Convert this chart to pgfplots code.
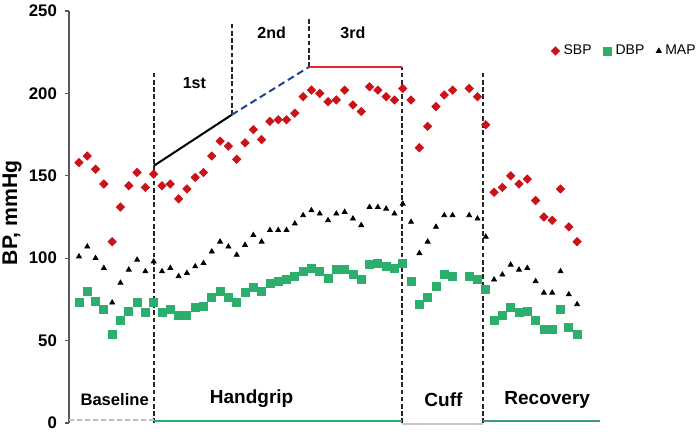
\documentclass[border=0pt]{standalone}
\usepackage{pgfplots}
\pgfplotsset{compat=1.18}
\usepackage{fontspec}
\setmainfont{Liberation Sans}
\definecolor{sbpred}{HTML}{CC1219}
\definecolor{dbpgreen}{HTML}{2BAE6C}
\definecolor{bluedash}{HTML}{1F4690}
\definecolor{redline}{HTML}{E5252A}
\definecolor{basegray}{HTML}{BDBDBD}
\definecolor{cuffgray}{HTML}{C8C8C8}
\definecolor{recteal}{HTML}{3F9A78}
\begin{document}
\begin{tikzpicture}
\begin{axis}[
  at={(0,0)}, anchor=south west,
  scale only axis, width=313pt, height=206pt,
  xmin=-1.2, xmax=74.2, ymin=0, ymax=250,
  axis x line=none, axis y line=left,
  y axis line style={-, draw=black!65, line width=0.6pt},
  ytick={0,50,100,150,200,250},
  xtick=\empty,
  tick align=outside, major tick length=2pt,
  tick style={draw=black!65, line width=0.6pt},
  /pgf/number format/assume math mode=true,
  yticklabel style={font=\bfseries\fontsize{8.4}{10}\selectfont, xshift=-0.5pt},
  ylabel={BP, mmHg},
  ylabel style={at={(axis description cs:-0.091,0.51)}, anchor=center, font=\bfseries\fontsize{10.6}{12}\selectfont},
  clip=false,
  legend columns=3,
  legend style={at={(1.008,0.903)}, anchor=east, draw=none, fill=none,
    font=\fontsize{7}{8}\selectfont, inner sep=0pt,
    /tikz/every even column/.append style={column sep=4pt}},
  legend image code/.code={\draw[#1] plot coordinates {(0pt,0pt)};},
  legend cell align=left,
]
% phase lines
\addplot[forget plot, black!85, line width=0.9pt, dash pattern=on 2.3pt off 1.3pt] coordinates {(9,0) (9,214)};
\addplot[forget plot, black!85, line width=0.9pt, dash pattern=on 2.3pt off 1.3pt] coordinates {(18.4,187) (18.4,242)};
\addplot[forget plot, black!85, line width=0.9pt, dash pattern=on 2.3pt off 1.3pt] coordinates {(27.7,216) (27.7,246)};
\addplot[forget plot, black!85, line width=0.9pt, dash pattern=on 2.3pt off 1.3pt] coordinates {(38.9,0) (38.9,216)};
\addplot[forget plot, black!85, line width=0.9pt, dash pattern=on 2.3pt off 1.3pt] coordinates {(48.7,0) (48.7,214)};
\addplot[forget plot, black, line width=1pt] coordinates {(9,156) (18.4,187)};
\addplot[forget plot, bluedash, line width=1pt, dash pattern=on 3.5pt off 2pt] coordinates {(18.4,187) (27.7,216)};
\addplot[forget plot, redline, line width=1.4pt] coordinates {(27.7,216) (38.9,216)};
% bottom phase bars
\addplot[forget plot, basegray, line width=0.8pt, dash pattern=on 2.5pt off 1.5pt] coordinates {(-1.2,1.8) (9,1.8)};
\addplot[forget plot, dbpgreen, line width=1.1pt] coordinates {(9,1) (38.9,1)};
\addplot[forget plot, cuffgray, line width=1.1pt] coordinates {(38.9,-0.6) (48.7,-0.6)};
\addplot[forget plot, recteal, line width=0.9pt] coordinates {(48.7,1) (62.8,1)};
% SBP
\addplot[only marks, mark=square*, mark size=1.45pt, mark options={rotate=45, fill=sbpred, draw=sbpred}] coordinates {
(0,158)(1,162)(2,154)(3,145)(4,110)(5,131)(6,144)(7,152)(8,143)(9,151)
(10,144)(11,145)(12,136)(13,142)(14,149)(15,152)(16,162)(17,171)(18,168)(19,160)
(20,170)(21,178)(22,172)(23,183)(24,184)(25,184)(26,188)(27,198)(28,202)(29,200)
(30,195)(31,196)(32,202)(33,193)(34,189)(35,204)(36,202)(37,198)(38,196)(39,203)
(40,196)(41,167)(42,180)(43,192)(44,199)(45,202)(47,203)(48,198)(49,181)
(50,140)(51,143)(52,150)(53,145)(54,148)(55,135)(56,125)(57,123)(58,142)(59,119)(60,110)};
\addlegendentry{SBP}
% DBP
\addplot[only marks, mark=square*, mark size=2pt, mark options={fill=dbpgreen, draw=dbpgreen}] coordinates {
(0,73)(1,80)(2,74)(3,69)(4,54)(5,62)(6,68)(7,73)(8,67)(9,73)
(10,67)(11,69)(12,65)(13,65)(14,70)(15,71)(16,76)(17,80)(18,76)(19,73)
(20,79)(21,82)(22,80)(23,85)(24,86)(25,87)(26,89)(27,92)(28,94)(29,92)
(30,88)(31,93)(32,93)(33,90)(34,87)(35,96)(36,97)(37,95)(38,94)(39,97)
(40,86)(41,72)(42,76)(43,83)(44,90)(45,89)(47,89)(48,87)(49,81)
(50,62)(51,65)(52,70)(53,67)(54,68)(55,62)(56,57)(57,57)(58,69)(59,58)(60,54)};
\addlegendentry{DBP}
% MAP
\addplot[only marks, mark=triangle*, mark size=1.4pt, mark options={fill=black, draw=black}] coordinates {
(0,101)(1,107)(2,100)(3,94)(4,73)(5,85)(6,93)(7,99)(8,92)(9,98)
(10,92)(11,94)(12,89)(13,91)(14,95)(15,97)(16,104)(17,110)(18,107)(19,102)
(20,108)(21,114)(22,110)(23,117)(24,117)(25,117)(26,121)(27,126)(28,129)(29,127)
(30,123)(31,127)(32,128)(33,124)(34,120)(35,131)(36,131)(37,130)(38,127)(39,133)
(40,122)(41,103)(42,110)(43,119)(44,126)(45,126)(47,126)(48,124)(49,113)
(50,87)(51,90)(52,96)(53,93)(54,94)(55,86)(56,79)(57,79)(58,92)(59,78)(60,72)};
\addlegendentry{MAP}
% phase labels
\node[font=\bfseries\fontsize{8.3}{10}\selectfont] at (axis cs:4.3,14.5) {Baseline};
\node[font=\bfseries\fontsize{9.5}{11}\selectfont] at (axis cs:20.8,15) {Handgrip};
\node[font=\bfseries\fontsize{9.5}{11}\selectfont] at (axis cs:43.9,14) {Cuff};
\node[font=\bfseries\fontsize{9.5}{11}\selectfont] at (axis cs:56.4,14) {Recovery};
\node[font=\bfseries\fontsize{8}{10}\selectfont] at (axis cs:13.9,206) {1st};
\node[font=\bfseries\fontsize{8}{10}\selectfont] at (axis cs:23.2,237) {2nd};
\node[font=\bfseries\fontsize{8}{10}\selectfont] at (axis cs:33.0,237) {3rd};
\end{axis}
\pgfresetboundingbox
\path[use as bounding box] (-34.5pt,-7pt) rectangle (315.5pt,211.5pt);
\end{tikzpicture}
\end{document}
